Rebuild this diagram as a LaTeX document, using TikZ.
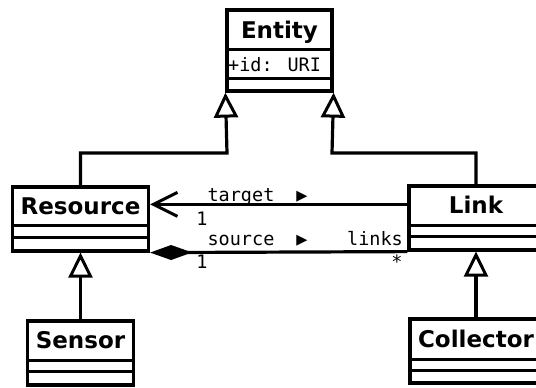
\documentclass[tikz,border=0pt]{standalone}
\usepackage{fontspec}
\newfontfamily\umlsans{DejaVu Sans}
\newfontfamily\umlmono{DejaVu Sans Mono}
\usetikzlibrary{arrows.meta}
\tikzset{
  cls/.style={draw, line width=3.2pt, inner sep=0pt, fill=white},
  clsname/.style={inner sep=0pt, anchor=base, font=\umlsans\bfseries\fontsize{23pt}{27pt}\selectfont},
  monotxt/.style={inner sep=0pt, anchor=base, font=\umlmono\fontsize{18.5pt}{22pt}\selectfont},
  conn/.style={line width=3.2pt},
  gen/.style={conn, -{Triangle[open, length=25pt, width=24pt, line width=3pt]}},
  nav/.style={conn, -{Straight Barb[length=24pt, width=24pt, line width=3pt]}},
  comp/.style={conn, -{Diamond[length=42pt, width=15pt]}},
}
\newcommand{\compline}[2]{\draw[line width=3.2pt] ([yshift=-#2pt]#1.north west) -- ([yshift=-#2pt]#1.north east);}
\begin{document}
\begin{tikzpicture}[x=1pt, y=-1pt]
\useasboundingbox (0,0) rectangle (536,388);
\clip (0,0) rectangle (536,388);

% classes
\node[cls, minimum width=105pt, minimum height=81pt] (entity) at (279.5,50.5) {};
\compline{entity}{41}
\compline{entity}{70}
\node[clsname] (entityT) at (279.5,38) {Entity};
\node[monotxt, anchor=base west] (entityA) at (228,71) {+id: URI};

\node[cls, minimum width=136pt, minimum height=64pt] (resource) at (80.5,219) {};
\compline{resource}{40}
\compline{resource}{52}
\node[clsname] (resourceT) at (80.5,214) {Resource};

\node[cls, minimum width=106pt, minimum height=64pt] (sensor) at (80.5,353) {};
\compline{sensor}{41}
\compline{sensor}{52}
\node[clsname] (sensorT) at (80.5,348) {Sensor};

\node[cls, minimum width=134pt, minimum height=64pt] (link) at (476,218) {};
\compline{link}{41}
\compline{link}{52}
\node[clsname] (linkT) at (476,213) {Link};

\node[cls, minimum width=132pt, minimum height=64pt] (collector) at (476,351) {};
\compline{collector}{42}
\compline{collector}{53}
\node[clsname] (collectorT) at (476,347) {Collector};

% generalizations
\coordinate (bendL) at (227,153);
\coordinate (bendR) at (332,153);
\draw[gen] (resource.north) |- (bendL) -- (entity.south west);
\draw[gen] (link.north) |- (bendR) -- (entity.south east);
\draw[gen] (sensor.north) -- (resource.south);
\draw[gen] (collector.north) -- (link.south);

% associations
\draw[nav] ([yshift=-20pt]link.north west) -- ([yshift=-19pt]resource.north east);
\draw[comp] (link.south west) -- (resource.south east);

% labels
\node[monotxt] (tgt) at (241,201) {target};
\node[monotxt] (tgtDir) at (302,201) {▶};
\node[monotxt] (tgtMult) at (202,225) {1};
\node[monotxt] (src) at (241,245) {source};
\node[monotxt] (srcDir) at (302,245) {▶};
\node[monotxt] (srcMult) at (202,268) {1};
\node[monotxt, anchor=base east] (lnks) at (403,245) {links};
\node[monotxt] (lnksMult) at (397,268) {*};
\end{tikzpicture}
\end{document}
